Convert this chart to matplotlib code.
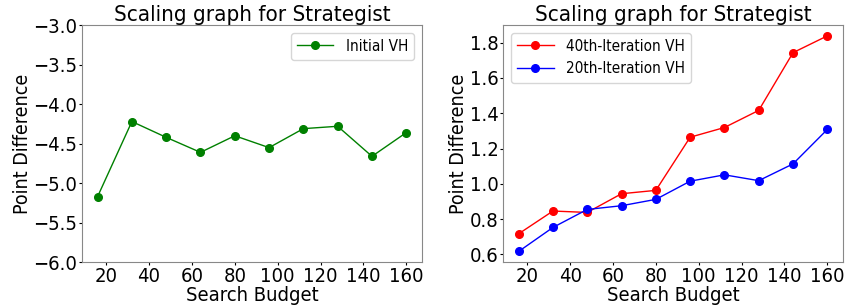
import matplotlib
matplotlib.use("Agg")
import matplotlib.pyplot as plt

budget = [16, 32, 48, 64, 80, 96, 112, 128, 144, 160]
initial_vh = [-5.17, -4.22, -4.42, -4.61, -4.40, -4.55, -4.31, -4.28, -4.66, -4.36]
iter40_vh = [0.717, 0.846, 0.838, 0.944, 0.963, 1.264, 1.319, 1.416, 1.743, 1.838]
iter20_vh = [0.617, 0.753, 0.855, 0.876, 0.912, 1.015, 1.051, 1.018, 1.113, 1.308]

if __name__ == "__main__":
    plt.rcParams["font.stretch"] = "condensed"
    fig, (ax1, ax2) = plt.subplots(1, 2, figsize=(8.47, 3.06), dpi=100)
    fig.subplots_adjust(left=0.097, right=0.995, top=0.918, bottom=0.143, wspace=0.24)

    ax1.plot(budget, initial_vh, "o-", color="green", lw=1, ms=5.5, label="Initial VH")
    ax1.set_ylim(-6, -3)
    ax1.set_yticks([-6.0, -5.5, -5.0, -4.5, -4.0, -3.5, -3.0])
    ax1.set_title("Scaling graph for Strategist", fontsize=16, pad=3)
    ax1.legend(fontsize=11, handlelength=2.4)

    ax2.plot(budget, iter40_vh, "o-", color="red", lw=1, ms=5.5, label="40th-Iteration VH")
    ax2.plot(budget, iter20_vh, "o-", color="blue", lw=1, ms=5.5, label="20th-Iteration VH")
    ax2.set_yticks([0.6, 0.8, 1.0, 1.2, 1.4, 1.6, 1.8])
    ax2.set_title("Scaling graph for Strategist", fontsize=16, pad=3)
    ax2.legend(fontsize=11, loc="upper left", handlelength=2.4)

    for ax in (ax1, ax2):
        ax.set_xticks([20, 40, 60, 80, 100, 120, 140, 160])
        ax.tick_params(labelsize=14.5, length=2, pad=1.5)
        ax.set_xlabel("Search Budget", fontsize=14.5, labelpad=0)
        ax.set_ylabel("Point Difference", fontsize=14, labelpad=1)
        for sp in ax.spines.values():
            sp.set_color("#888888")

    fig.savefig("out.png")
